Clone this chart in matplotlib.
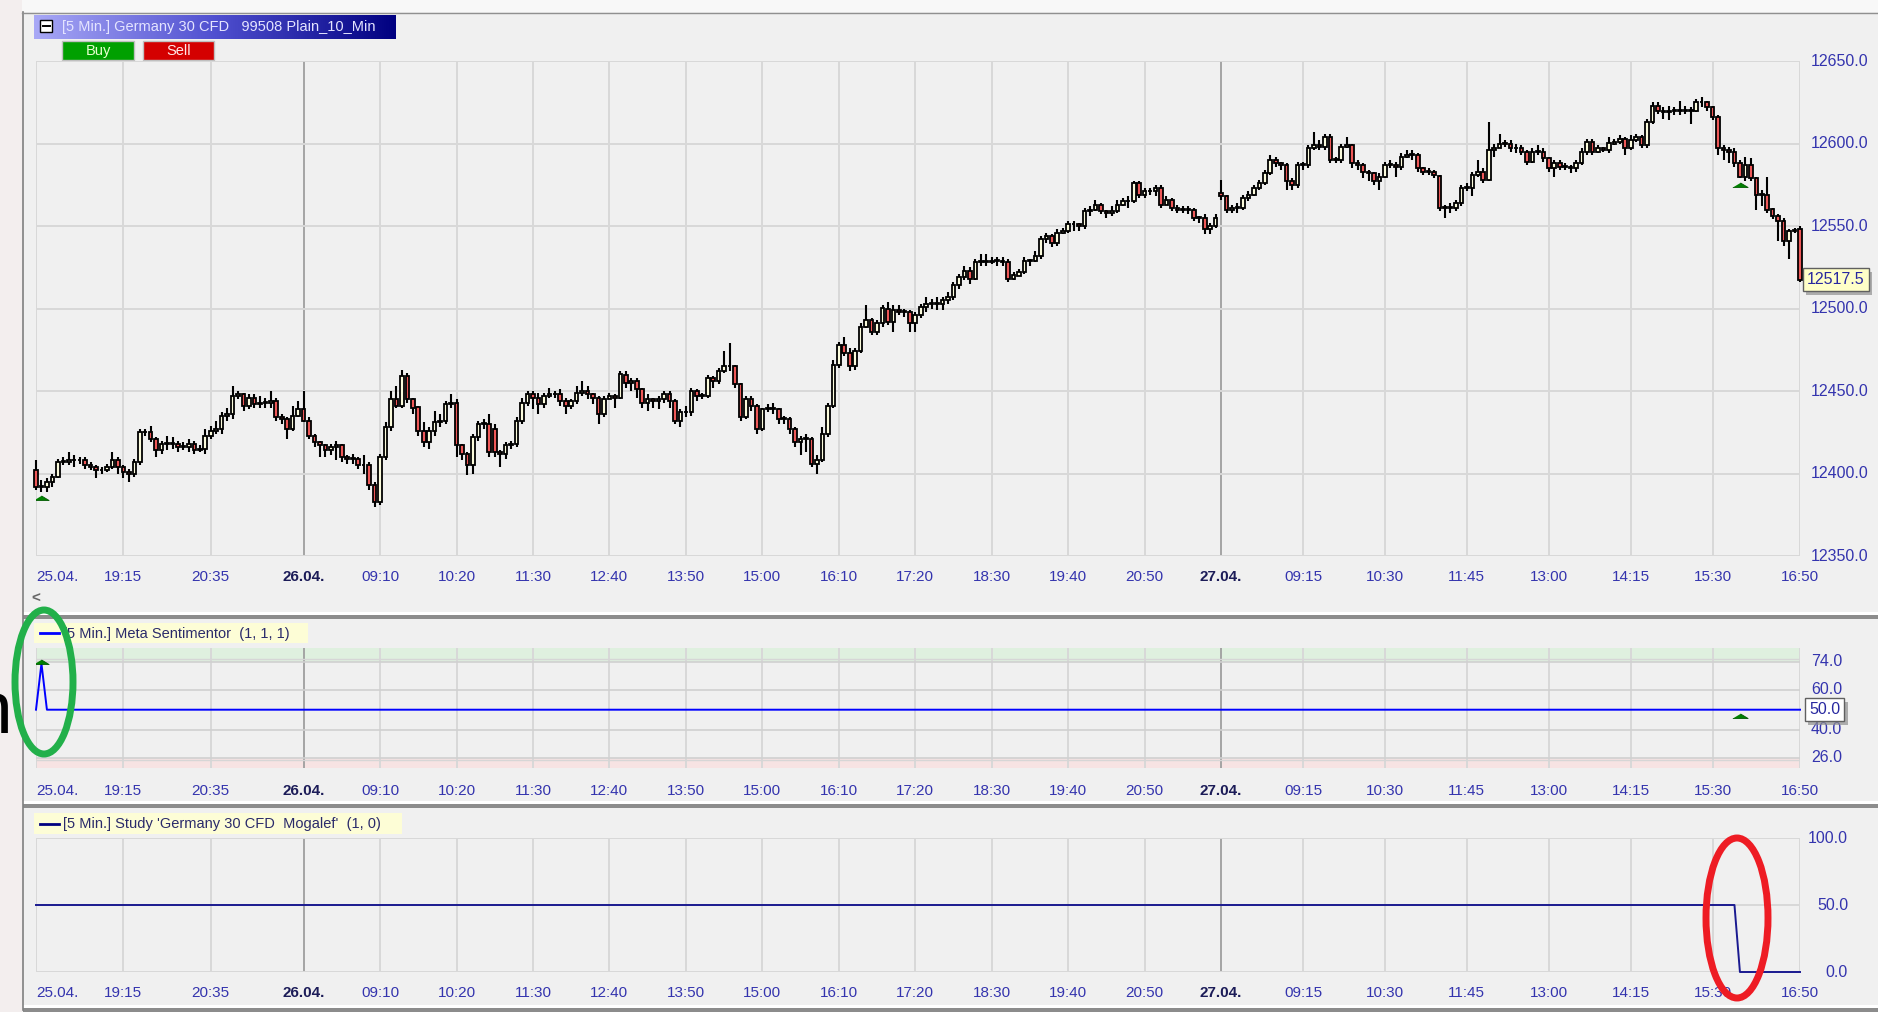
import matplotlib
matplotlib.use('Agg')
import matplotlib.pyplot as plt
import matplotlib.patheffects as pe
import numpy as np
from matplotlib.colors import LinearSegmentedColormap
from matplotlib.patches import Rectangle, Ellipse

plt.rcParams['font.family'] = ['Liberation Sans', 'DejaVu Sans']

# 5 min bars, Germany 30 CFD, 25.04. 17:55 -> 27.04. 16:50
opens = [
    12402, 12392, 12392, 12395, 12398, 12407, 12407, 12408, 12408, 12408, 12405, 12404, 12402, 12402,
    12404, 12408, 12404, 12401, 12400, 12407, 12425, 12425, 12421, 12414, 12418, 12418, 12418, 12416,
    12416, 12418, 12414, 12415, 12423, 12426, 12427, 12435, 12436, 12447, 12448, 12441, 12446, 12442,
    12443, 12443, 12444, 12434, 12433, 12427, 12435, 12439, 12432, 12423, 12419, 12417, 12414, 12416,
    12417, 12410, 12409, 12409, 12405, 12405, 12393, 12383, 12410, 12428, 12445, 12441, 12459, 12445,
    12440, 12426, 12419, 12426, 12431, 12432, 12442, 12443, 12417, 12412, 12405, 12422, 12430, 12430,
    12427, 12413, 12412, 12417, 12418, 12432, 12443, 12448, 12446, 12442, 12447, 12448, 12448, 12444,
    12441, 12444, 12449, 12450, 12448, 12446, 12436, 12445, 12447, 12446, 12460, 12455, 12456, 12451,
    12443, 12445, 12444, 12445, 12448, 12444, 12432, 12437, 12437, 12450, 12447, 12447, 12458, 12456,
    12462, 12465, 12465, 12454, 12434, 12445, 12441, 12427, 12439, 12439, 12439, 12433, 12433, 12427,
    12419, 12421, 12421, 12406, 12408, 12424, 12441, 12466, 12478, 12473, 12465, 12474, 12489, 12493,
    12486, 12491, 12500, 12492, 12499, 12498, 12498, 12491, 12496, 12501, 12503, 12503, 12503, 12505,
    12507, 12514, 12519, 12523, 12518, 12528, 12529, 12528, 12529, 12529, 12528, 12518, 12520, 12522,
    12529, 12529, 12532, 12542, 12544, 12540, 12546, 12547, 12551, 12551, 12550, 12559, 12560, 12563,
    12559, 12558, 12559, 12563, 12565, 12565, 12576, 12569, 12571, 12571, 12573, 12563, 12566, 12561,
    12560, 12560, 12560, 12555, 12555, 12548, 12550, 12570, 12568, 12560, 12561, 12561, 12567, 12569,
    12573, 12576, 12582, 12590, 12588, 12587, 12577, 12575, 12587, 12587, 12597, 12599, 12598, 12604,
    12590, 12590, 12598, 12599, 12588, 12587, 12583, 12582, 12577, 12580, 12587, 12587, 12586, 12592,
    12593, 12593, 12585, 12583, 12583, 12580, 12561, 12561, 12561, 12564, 12573, 12573, 12581, 12583,
    12578, 12596, 12597, 12600, 12600, 12597, 12597, 12595, 12589, 12595, 12595, 12591, 12585, 12588,
    12586, 12586, 12585, 12588, 12595, 12601, 12595, 12597, 12596, 12600, 12601, 12603, 12597, 12602,
    12604, 12599, 12613, 12623, 12620, 12619, 12620, 12620, 12620, 12620, 12620, 12625, 12625, 12622,
    12616, 12597, 12596, 12595, 12588, 12580, 12587, 12579, 12569, 12569, 12560, 12556, 12553, 12541,
    12547, 12548,
]
highs = [
    12408, 12396, 12397, 12400, 12409, 12410, 12413, 12411, 12410, 12410, 12407, 12405, 12404, 12406,
    12413, 12410, 12405, 12403, 12409, 12427, 12427, 12429, 12422, 12420, 12423, 12422, 12420, 12419,
    12421, 12420, 12417, 12427, 12429, 12432, 12437, 12440, 12453, 12450, 12449, 12448, 12448, 12447,
    12446, 12450, 12446, 12436, 12434, 12441, 12444, 12450, 12434, 12424, 12420, 12418, 12418, 12420,
    12418, 12411, 12412, 12410, 12411, 12407, 12395, 12412, 12431, 12450, 12453, 12463, 12461, 12446,
    12441, 12431, 12428, 12438, 12436, 12444, 12448, 12445, 12418, 12413, 12424, 12432, 12433, 12436,
    12430, 12414, 12419, 12420, 12434, 12446, 12450, 12450, 12449, 12449, 12452, 12450, 12451, 12446,
    12445, 12453, 12456, 12453, 12449, 12447, 12447, 12449, 12448, 12462, 12462, 12458, 12458, 12452,
    12448, 12446, 12447, 12450, 12450, 12445, 12439, 12441, 12452, 12451, 12449, 12460, 12459, 12464,
    12474, 12479, 12466, 12455, 12447, 12447, 12442, 12440, 12442, 12443, 12440, 12435, 12434, 12428,
    12423, 12424, 12422, 12411, 12428, 12443, 12469, 12480, 12483, 12476, 12476, 12491, 12502, 12494,
    12493, 12502, 12504, 12502, 12502, 12500, 12499, 12498, 12503, 12507, 12506, 12507, 12507, 12510,
    12516, 12521, 12526, 12525, 12530, 12533, 12533, 12531, 12531, 12531, 12530, 12522, 12524, 12531,
    12530, 12535, 12544, 12546, 12545, 12548, 12549, 12553, 12553, 12552, 12561, 12562, 12566, 12564,
    12560, 12562, 12566, 12567, 12568, 12577, 12577, 12573, 12573, 12575, 12575, 12568, 12567, 12563,
    12562, 12562, 12561, 12556, 12557, 12552, 12557, 12578, 12569, 12563, 12564, 12569, 12571, 12575,
    12578, 12584, 12593, 12592, 12589, 12588, 12579, 12589, 12589, 12599, 12607, 12602, 12606, 12606,
    12592, 12600, 12604, 12600, 12590, 12588, 12584, 12583, 12582, 12589, 12590, 12589, 12594, 12596,
    12596, 12594, 12586, 12585, 12584, 12581, 12563, 12564, 12566, 12575, 12576, 12583, 12590, 12585,
    12613, 12600, 12606, 12602, 12602, 12600, 12599, 12596, 12597, 12599, 12597, 12592, 12590, 12590,
    12588, 12587, 12590, 12597, 12603, 12603, 12599, 12598, 12604, 12603, 12605, 12604, 12605, 12606,
    12605, 12615, 12625, 12625, 12622, 12623, 12622, 12626, 12623, 12622, 12627, 12628, 12626, 12623,
    12617, 12599, 12598, 12597, 12590, 12592, 12591, 12580, 12572, 12580, 12561, 12557, 12555, 12548,
    12549, 12550,
]
lows = [
    12390, 12389, 12389, 12392, 12397, 12405, 12405, 12404, 12406, 12403, 12402, 12397, 12400, 12401,
    12403, 12400, 12397, 12395, 12398, 12405, 12423, 12419, 12410, 12412, 12414, 12415, 12413, 12414,
    12413, 12412, 12413, 12412, 12421, 12424, 12424, 12432, 12433, 12445, 12438, 12439, 12440, 12440,
    12440, 12440, 12432, 12430, 12421, 12426, 12434, 12431, 12421, 12416, 12410, 12410, 12411, 12408,
    12407, 12406, 12406, 12403, 12400, 12390, 12380, 12381, 12408, 12426, 12440, 12440, 12443, 12436,
    12423, 12416, 12415, 12423, 12428, 12430, 12440, 12410, 12408, 12399, 12400, 12420, 12427, 12410,
    12410, 12404, 12409, 12415, 12416, 12430, 12441, 12439, 12436, 12440, 12446, 12446, 12441, 12436,
    12439, 12442, 12447, 12445, 12442, 12430, 12434, 12445, 12440, 12445, 12452, 12450, 12446, 12440,
    12438, 12440, 12439, 12443, 12440, 12430, 12428, 12434, 12435, 12444, 12445, 12446, 12452, 12454,
    12461, 12462, 12452, 12432, 12433, 12438, 12424, 12426, 12437, 12436, 12430, 12430, 12424, 12416,
    12411, 12413, 12404, 12400, 12407, 12422, 12440, 12464, 12471, 12462, 12463, 12473, 12488, 12484,
    12484, 12489, 12490, 12486, 12496, 12495, 12486, 12486, 12494, 12498, 12500, 12499, 12499, 12503,
    12505, 12512, 12517, 12515, 12517, 12526, 12526, 12527, 12526, 12526, 12516, 12517, 12520, 12521,
    12526, 12528, 12530, 12540, 12537, 12538, 12545, 12546, 12547, 12547, 12548, 12556, 12559, 12557,
    12555, 12556, 12558, 12562, 12561, 12564, 12567, 12567, 12569, 12568, 12561, 12563, 12559, 12558,
    12558, 12557, 12553, 12552, 12545, 12545, 12549, 12566, 12558, 12558, 12558, 12560, 12565, 12568,
    12572, 12575, 12581, 12586, 12584, 12572, 12572, 12573, 12584, 12585, 12596, 12596, 12596, 12588,
    12588, 12588, 12597, 12585, 12584, 12579, 12577, 12575, 12572, 12579, 12585, 12580, 12584, 12591,
    12590, 12583, 12581, 12581, 12579, 12559, 12555, 12558, 12559, 12562, 12571, 12568, 12580, 12576,
    12577, 12592, 12597, 12598, 12595, 12594, 12593, 12587, 12588, 12593, 12589, 12583, 12580, 12584,
    12584, 12582, 12583, 12587, 12593, 12593, 12594, 12595, 12594, 12599, 12600, 12593, 12596, 12601,
    12597, 12597, 12612, 12618, 12615, 12614, 12617, 12617, 12618, 12612, 12619, 12622, 12620, 12614,
    12593, 12590, 12588, 12586, 12579, 12577, 12577, 12560, 12562, 12558, 12554, 12541, 12538, 12530,
    12546, 12516,
]
closes = [
    12392, 12392, 12395, 12398, 12407, 12407, 12408, 12408, 12408, 12405, 12404, 12402, 12402, 12404,
    12408, 12404, 12401, 12400, 12407, 12425, 12425, 12421, 12414, 12418, 12418, 12418, 12416, 12416,
    12418, 12414, 12415, 12423, 12426, 12427, 12435, 12436, 12447, 12448, 12441, 12446, 12442, 12443,
    12443, 12444, 12434, 12433, 12427, 12435, 12439, 12432, 12423, 12419, 12417, 12414, 12416, 12417,
    12410, 12409, 12409, 12405, 12405, 12393, 12383, 12410, 12428, 12445, 12441, 12459, 12445, 12440,
    12426, 12419, 12426, 12431, 12432, 12442, 12443, 12417, 12412, 12405, 12422, 12430, 12430, 12413,
    12413, 12412, 12417, 12418, 12432, 12443, 12448, 12446, 12442, 12447, 12448, 12448, 12444, 12441,
    12444, 12449, 12450, 12448, 12446, 12436, 12445, 12447, 12446, 12460, 12455, 12456, 12451, 12443,
    12445, 12444, 12445, 12448, 12444, 12432, 12437, 12437, 12450, 12447, 12447, 12458, 12456, 12462,
    12465, 12465, 12454, 12434, 12445, 12441, 12427, 12439, 12439, 12439, 12433, 12433, 12427, 12419,
    12421, 12421, 12406, 12408, 12424, 12441, 12466, 12478, 12473, 12465, 12474, 12489, 12493, 12486,
    12491, 12500, 12492, 12499, 12498, 12498, 12491, 12496, 12501, 12503, 12503, 12503, 12505, 12507,
    12514, 12519, 12523, 12518, 12528, 12529, 12528, 12529, 12529, 12528, 12518, 12520, 12522, 12529,
    12529, 12532, 12542, 12544, 12540, 12546, 12547, 12551, 12551, 12550, 12559, 12560, 12563, 12559,
    12558, 12559, 12563, 12565, 12565, 12576, 12569, 12571, 12571, 12573, 12563, 12566, 12561, 12560,
    12560, 12560, 12555, 12555, 12548, 12550, 12555, 12568, 12560, 12561, 12561, 12567, 12569, 12573,
    12576, 12582, 12590, 12588, 12587, 12577, 12575, 12587, 12587, 12597, 12599, 12598, 12604, 12590,
    12590, 12598, 12599, 12588, 12587, 12583, 12582, 12577, 12580, 12587, 12587, 12586, 12592, 12593,
    12593, 12585, 12583, 12583, 12581, 12561, 12561, 12561, 12564, 12573, 12573, 12581, 12583, 12578,
    12596, 12597, 12600, 12600, 12597, 12597, 12595, 12589, 12595, 12595, 12591, 12585, 12588, 12586,
    12586, 12585, 12588, 12595, 12601, 12595, 12597, 12596, 12600, 12601, 12603, 12597, 12602, 12604,
    12599, 12613, 12623, 12620, 12619, 12620, 12620, 12620, 12620, 12620, 12625, 12625, 12622, 12616,
    12597, 12596, 12595, 12588, 12580, 12587, 12579, 12569, 12569, 12560, 12556, 12553, 12541, 12547,
    12547, 12517.5,
]

tick_bars = [0, 16, 32, 49, 63, 77, 91, 105, 119, 133, 147, 161, 175, 189, 203,
             217, 232, 247, 262, 277, 292, 307, 323]
tick_labels = ['25.04.', '19:15', '20:35', '26.04.', '09:10', '10:20', '11:30', '12:40',
               '13:50', '15:00', '16:10', '17:20', '18:30', '19:40', '20:50', '27.04.',
               '09:15', '10:30', '11:45', '13:00', '14:15', '15:30', '16:50']
day_breaks = [49, 217]

price_levels = [12350, 12400, 12450, 12500, 12550, 12600, 12650]

# buy signals (bar, price of arrow base)
buy_bars = [1, 312]
buy_prices = [12384, 12573.5]

# Meta Sentimentor line (break points) and its levels
senti_x = [0, 1, 2, 323]
senti_y = [50, 73, 50, 50]
senti_levels = [26, 40, 60, 74]
senti_last = 50
senti_arrow_bars = [1, 312]
senti_arrow_vals = [73, 46]

# Mogalef study line (break points)
study_x = [0, 311, 312, 323]
study_y = [50, 50, 0, 0]
study_levels = [0, 50, 100]

W, H = 1878, 1013
BG = '#f0f0f0'
LABEL = '#3434ae'
DAYLABEL = '#1c1c58'
GRID = '#d8d8d8'
DAYGRID = '#a4a4a4'
X0, X1 = 36, 1800


def box(x0, y0, x1, y1):
    return [x0 / W, 1 - y1 / H, (x1 - x0) / W, (y1 - y0) / H]


fig = plt.figure(figsize=(W / 100, H / 100), dpi=100, facecolor=BG)

# window chrome drawn in pixel coordinates
bg = fig.add_axes([0, 0, 1, 1], zorder=0)
bg.axis('off')
bg.add_patch(Rectangle((0, 0), W, 12, fc='#f8f8f8', ec='none'))
bg.add_patch(Rectangle((0, 0), 22, H, fc='#f3eeee', ec='none'))
bg.plot([22.5, 22.5], [12, 1010], color='#808080', lw=1.2)
bg.plot([22, W], [12.5, 12.5], color='#909090', lw=1.0)
for yw, yg in [(612, 615), (801, 804), (1005, 1008)]:
    bg.add_patch(Rectangle((23, yw), W, 3, fc='white', ec='none'))
    bg.add_patch(Rectangle((23, yg), W, 4, fc='#8c8c8c', ec='none'))
bg.add_patch(Rectangle((0, 1012), W, 2, fc='white', ec='none'))

# chart title bar with gradient
grad = LinearSegmentedColormap.from_list('title', ['#a8a8f6', '#5050d0', '#000080'])
bg.imshow(np.linspace(0, 1, 256).reshape(1, -1), cmap=grad, extent=(34, 396, 39, 15),
          aspect='auto', zorder=1)
bg.add_patch(Rectangle((40, 20), 12, 12, fc='white', ec='black', lw=1.0, zorder=2))
bg.plot([42.5, 49.5], [26, 26], color='black', lw=1.4, zorder=3)
bg.text(62, 27, '[5 Min.] Germany 30 CFD   99508 Plain_10_Min', color='#e4e4ff',
        fontsize=10.5, va='center', ha='left', zorder=3)
bg.add_patch(Rectangle((62, 41), 72, 19, fc='#00a000', ec='#c0c0c0', lw=1.0))
bg.text(98, 50.5, 'Buy', color='#e8ffd0', fontsize=10.5, ha='center', va='center')
bg.add_patch(Rectangle((143, 41), 71, 19, fc='#d40000', ec='#c0c0c0', lw=1.0))
bg.text(178.5, 50.5, 'Sell', color='#ffe8e8', fontsize=10.5, ha='center', va='center')
bg.text(36, 599, '<', color='#666666', fontsize=11, fontweight='bold', ha='center', va='center')

# indicator title boxes
bg.add_patch(Rectangle((34, 623), 274, 20, fc='#fdfdd6', ec='none'))
bg.plot([40, 59], [633, 633], color='#0000ff', lw=2)
bg.text(63, 633.5, '[5 Min.] Meta Sentimentor  (1, 1, 1)', color='#2a2a6a',
        fontsize=10.5, va='center', ha='left')
bg.add_patch(Rectangle((34, 813), 368, 21, fc='#fdfdd6', ec='none'))
bg.plot([40, 59], [823.5, 823.5], color='#000080', lw=2)
bg.text(63, 824, "[5 Min.] Study 'Germany 30 CFD  Mogalef'  (1, 0)", color='#2a2a6a',
        fontsize=10.5, va='center', ha='left')
bg.set_xlim(0, W)
bg.set_ylim(H, 0)


def panel(y0, y1, ylim, label_gap):
    ax = fig.add_axes(box(X0, y0, X1, y1), zorder=2)
    ax.set_facecolor('none')
    ax.set_xlim(0, 323)
    ax.set_ylim(*ylim)
    for s in ax.spines.values():
        s.set_visible(False)
    ax.set_xticks([])
    ax.set_yticks([])
    for b, lab in zip(tick_bars, tick_labels):
        day = b in day_breaks
        ax.axvline(b, color=DAYGRID if day else GRID, lw=1.4, zorder=0.5)
        ax.text(b, -label_gap / (y1 - y0), lab, transform=ax.get_xaxis_transform(),
                ha='left' if b == 0 else 'center', va='center', fontsize=11,
                color=DAYLABEL if day else LABEL,
                fontweight='bold' if day else 'normal')
    return ax


def value_tag(ax, x_px, value, text, face):
    t = ax.text(1 + x_px / (X1 - X0), value, text, transform=ax.get_yaxis_transform(),
                ha='left', va='center', fontsize=11.5, color='#2828a0', zorder=6,
                bbox=dict(boxstyle='square,pad=0.25', fc=face, ec='#606060', lw=1.0))
    t.get_bbox_patch().set_path_effects(
        [pe.withSimplePatchShadow(offset=(2.5, -2.5), shadow_rgbFace='#909090', alpha=0.7)])
    return t


# price panel
ax = panel(61, 556, (12350, 12650), 21)
for v in price_levels:
    ax.axhline(v, color=GRID, lw=1.4, zorder=0.5)
    ax.text(1 + 11 / (X1 - X0), v, f'{v:.1f}', transform=ax.get_yaxis_transform(),
            ha='left', va='center', fontsize=11.5, color=LABEL)

x = np.arange(len(closes))
o = np.array(opens, dtype=float)
c = np.array(closes, dtype=float)
up = c >= o
ax.vlines(x, lows, highs, color='black', lw=1.5, zorder=3, clip_on=False)
ax.bar(x, np.maximum(np.abs(c - o), 0.4), bottom=np.minimum(o, c), width=0.66,
       color=np.where(up, '#fbfbdc', '#ee5858'), edgecolor='black', lw=1.3,
       zorder=4, clip_on=False)
arrow = [(-1, 0), (1, 0), (0, 0.6)]
ax.plot(buy_bars, buy_prices, ls='none', marker=arrow, ms=11, color='#008000',
        mec='#005a00', mew=0.6, zorder=5)
value_tag(ax, 7, closes[-1], f'{closes[-1]:.1f}', '#ffffc8')

# Meta Sentimentor panel
sx = panel(648, 768, (20.9, 80.8), 23)
sx.axhspan(74, 80.8, color='#dff0df', zorder=0.2, lw=0)
sx.axhspan(20.9, 26, color='#f7e3e3', zorder=0.2, lw=0)
for v in senti_levels:
    sx.axhline(v, color='#d0d0d0', lw=1.2, zorder=0.5)
    sx.text(1 + 11 / (X1 - X0), v, f'{v:.1f}', transform=sx.get_yaxis_transform(),
            ha='left', va='center', fontsize=11.5, color=LABEL)
sx.axhline(75.2, color='#d6d6d6', lw=1.0, zorder=0.5)
sx.axhline(24.8, color='#d6d6d6', lw=1.0, zorder=0.5)
sx.plot(senti_x, senti_y, color='#0000ff', lw=1.4, zorder=3, clip_on=False)
sx.plot(senti_arrow_bars, senti_arrow_vals, ls='none', marker=arrow, ms=11,
        color='#008000', mec='#005a00', mew=0.6, zorder=4)
value_tag(sx, 9, senti_last, f'{senti_last:.1f}', 'white')

# Mogalef study panel
mx = panel(838, 972, (0, 100), 21)
for v in study_levels:
    mx.axhline(v, color=GRID, lw=1.4, zorder=0.5)
    mx.text(1 + 48 / (X1 - X0), v, f'{v:.1f}', transform=mx.get_yaxis_transform(),
            ha='right', va='center', fontsize=11.5, color=LABEL)
mx.plot(study_x, study_y, color='#1a1a90', lw=1.4, zorder=3, clip_on=False)

# hand drawn highlights on top
ov = fig.add_axes([0, 0, 1, 1], zorder=10)
ov.set_facecolor('none')
ov.axis('off')
ov.set_xlim(0, W)
ov.set_ylim(H, 0)
ov.text(-29, 733, 'n', fontsize=54, color='black', ha='left', va='baseline')
ov.add_patch(Ellipse((44, 682), 58, 144, fill=False, ec='#22b04a', lw=5))
ov.add_patch(Ellipse((1737, 918), 62, 160, fill=False, ec='#ee1c24', lw=5))

fig.savefig('out.png', dpi=100, facecolor=BG)
